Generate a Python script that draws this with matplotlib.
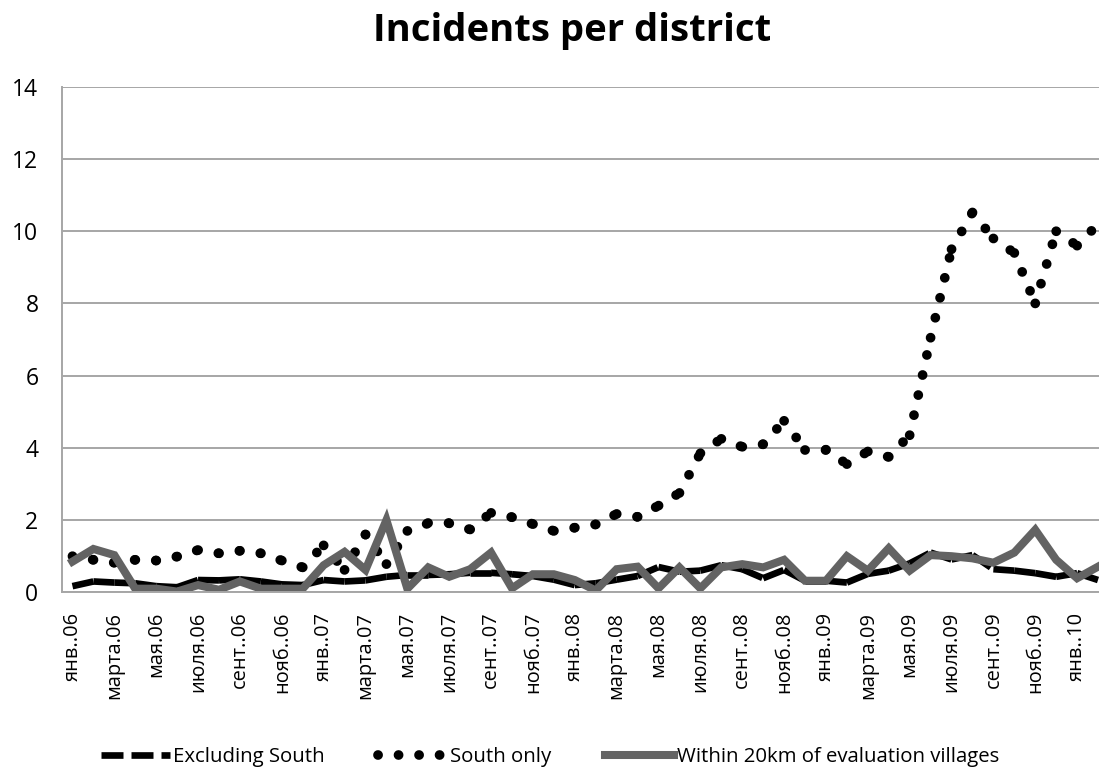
import matplotlib
matplotlib.use("Agg")
import matplotlib.pyplot as plt
from matplotlib.lines import Line2D
import numpy as np

# Monthly incident rates, Jan 2006 - Feb 2010
excluding_south = [0.17, 0.30, 0.27, 0.25, 0.17, 0.14, 0.34, 0.33, 0.36, 0.30,
                   0.22, 0.20, 0.34, 0.30, 0.33, 0.43, 0.48, 0.48, 0.50, 0.54,
                   0.54, 0.50, 0.45, 0.35, 0.20, 0.25, 0.35, 0.45, 0.70, 0.57,
                   0.60, 0.75, 0.64, 0.39, 0.62, 0.32, 0.32, 0.27, 0.51, 0.60,
                   0.80, 1.10, 0.91, 1.03, 0.64, 0.60, 0.53, 0.43, 0.53, 0.34]

south_only = [1.00, 0.90, 0.82, 0.90, 0.88, 0.99, 1.17, 1.08, 1.15, 1.08,
              0.88, 0.69, 1.30, 0.62, 1.60, 0.78, 1.70, 1.91, 1.91, 1.74,
              2.20, 2.08, 1.89, 1.70, 1.79, 1.88, 2.17, 2.09, 2.40, 2.75,
              3.85, 4.25, 4.03, 4.10, 4.75, 3.95, 3.95, 3.55, 3.90, 3.75,
              4.35, 7.05, 9.50, 10.52, 9.80, 9.40, 8.00, 10.00, 9.60, 10.20]

within_20km = [0.85, 1.20, 1.03, 0.10, 0.10, 0.02, 0.20, 0.07, 0.30, 0.10,
               0.10, 0.10, 0.75, 1.12, 0.62, 2.00, 0.10, 0.69, 0.43, 0.64,
               1.10, 0.11, 0.50, 0.50, 0.34, 0.05, 0.64, 0.71, 0.11, 0.69,
               0.11, 0.69, 0.78, 0.69, 0.90, 0.32, 0.32, 1.00, 0.60, 1.22,
               0.60, 1.03, 1.00, 0.94, 0.82, 1.10, 1.73, 0.90, 0.39, 0.71]

# Every second month is labelled on the category axis
month_labels = ["янв..06", "марта.06", "мая.06", "июля.06", "сент..06", "нояб..06",
                "янв..07", "марта.07", "мая.07", "июля.07", "сент..07", "нояб..07",
                "янв..08", "марта.08", "мая.08", "июля.08", "сент..08", "нояб..08",
                "янв..09", "марта.09", "мая.09", "июля.09", "сент..09", "нояб..09",
                "янв..10"]

series_names = ["Excluding South", "South only", "Within 20km of evaluation villages"]

FONT = ["Open Sans", "DejaVu Sans"]
plt.rcParams["font.family"] = FONT

W, H = 1099, 776
fig = plt.figure(figsize=(W / 100, H / 100), dpi=100)
fig.patch.set_facecolor("white")

# axes geometry in pixels
left_px, right_px = 62, 1099
bottom_px, top_px = 592.3, 86.8
ax = fig.add_axes([left_px / W, 1 - bottom_px / H,
                   (right_px - left_px) / W, (bottom_px - top_px) / H])

x = np.arange(len(south_only))
px_per_month = 20.93
ax.set_xlim(-0.5, -0.5 + (right_px - left_px) / px_per_month)
ax.set_ylim(0, 14)

grid_col = "#a6a6a6"
ax.set_yticks(np.arange(0, 15, 2))
ax.yaxis.grid(True, color=grid_col, linewidth=1.4)
ax.set_axisbelow(True)

for side in ("top", "right"):
    ax.spines[side].set_visible(False)
ax.spines["left"].set_color(grid_col)
ax.spines["left"].set_linewidth(1.4)
ax.spines["bottom"].set_color(grid_col)
ax.spines["bottom"].set_linewidth(1.4)

dash_style = dict(color="black", linewidth=4.8, linestyle=(0, (3.3, 1.2)),
                  dash_capstyle="butt")
dot_style = dict(color="black", linewidth=7.0, linestyle=(0, (0.01, 2.1)),
                 dash_capstyle="round")
solid_style = dict(color="#636363", linewidth=5.8, solid_joinstyle="miter")


def plot_segmented(xs, ys, style):
    # the dash pattern restarts at every data point
    for i in range(len(xs) - 1):
        ax.plot(xs[i:i + 2], ys[i:i + 2], **style)


plot_segmented(x, excluding_south, dash_style)
plot_segmented(x, south_only, dot_style)
ax.plot(x, within_20km, **solid_style)

ax.set_xticks(x[::2])
ax.set_xticklabels(month_labels, rotation=90, fontsize=14.4,
                   ha="center", va="top")
ax.tick_params(axis="x", length=0, pad=14)
ax.tick_params(axis="y", length=0, pad=17, labelsize=16.5)

fig.text(572 / W, 1 - 31 / H, "Incidents per district", ha="center",
         va="center", fontsize=27.5, fontweight="bold")

handles = [Line2D([], [], **dash_style), Line2D([], [], **dot_style),
           Line2D([], [], **solid_style)]
leg = fig.legend(handles=handles, labels=series_names, loc="center",
                 bbox_to_anchor=(550 / W, 1 - 757 / H), ncol=3,
                 frameon=False, fontsize=14.7, handlelength=3.4,
                 handletextpad=0.15, columnspacing=2.6, borderpad=0)

fig.savefig("out.png", dpi=100, facecolor="white")
